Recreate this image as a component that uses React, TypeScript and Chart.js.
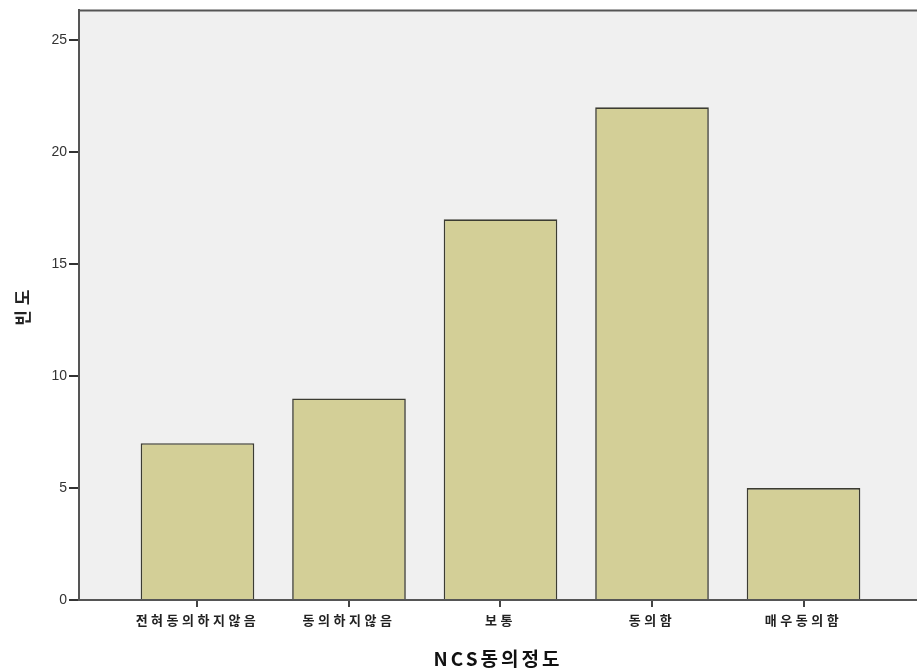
import React, { useEffect, useRef } from "react";
import { Chart, registerables } from "chart.js";

Chart.register(...registerables);

const categories = ["전혀동의하지않음", "동의하지않음", "보통", "동의함", "매우동의함"];
const frequencies = [7, 9, 17, 22, 5];
const yTicks = [0, 5, 10, 15, 20, 25];
const xTitle = "NCS동의정도";
const yTitle = "빈도";

const plotBg = {
  id: "plotBg",
  beforeDraw(chart: any) {
    const { ctx, chartArea: a } = chart;
    ctx.save();
    ctx.fillStyle = "#f0f0f0";
    ctx.fillRect(a.left, a.top, a.right - a.left, a.bottom - a.top);
    ctx.restore();
  },
  afterDraw(chart: any) {
    const { ctx, chartArea: a } = chart;
    ctx.save();
    ctx.strokeStyle = "#555555";
    ctx.lineWidth = 2;
    ctx.beginPath();
    ctx.moveTo(a.left - 1, a.top);
    ctx.lineTo(a.right, a.top);
    ctx.stroke();
    ctx.restore();
  },
};

export default function App() {
  const ref = useRef<HTMLCanvasElement>(null);
  useEffect(() => {
    document.body.style.margin = "0";
    const data = categories.map((c, i) => ({ x: i, y: frequencies[i] }));
    const chart = new Chart(ref.current!, {
      type: "bar",
      data: {
        datasets: [
          {
            data: data as any,
            backgroundColor: "#d3cf97",
            borderColor: "#3c3c32",
            borderWidth: 1.6,
            categoryPercentage: 1,
            barPercentage: 0.75,
          },
        ],
      },
      options: {
        animation: false,
        responsive: false,
        devicePixelRatio: 1,
        layout: { padding: { top: 8, right: 0, left: 0, bottom: 0 } },
        plugins: { legend: { display: false }, tooltip: { enabled: false } },
        scales: {
          x: {
            type: "linear",
            offset: false,
            min: -0.782,
            max: 4.749,
            afterFit(s: any) {
              s.height = 70;
            },
            afterBuildTicks(s: any) {
              s.ticks = categories.map((_, i) => ({ value: i }));
            },
            ticks: {
              autoSkip: false,
              maxRotation: 0,
              padding: 5,
              color: "#222",
              font: { family: "'Noto Sans CJK KR'", size: 13, weight: "bold" },
              callback: (v: any) => categories[v] ?? "",
            },
            grid: {
              offset: false,
              drawOnChartArea: false,
              drawTicks: true,
              tickLength: 7,
              color: "#444",
              lineWidth: 2,
            },
            border: { display: true, color: "#555", width: 2 },
            title: {
              display: true,
              text: xTitle,
              color: "#111",
              font: { family: "'Noto Sans CJK KR', Arial", size: 19, weight: "bold" },
              padding: { top: 4, bottom: 0 },
            },
          },
          y: {
            min: 0,
            max: 26.33,
            afterFit(s: any) {
              s.width = 79;
            },
            afterBuildTicks(s: any) {
              s.ticks = yTicks.map((v) => ({ value: v }));
            },
            ticks: {
              padding: 2,
              color: "#333",
              font: { family: "Arial, 'Liberation Sans'", size: 14 },
            },
            grid: {
              drawOnChartArea: false,
              drawTicks: true,
              tickLength: 10,
              color: "#333",
              lineWidth: 2,
            },
            border: { display: true, color: "#555", width: 2 },
            title: {
              display: true,
              text: yTitle,
              color: "#222",
              font: { family: "'Noto Sans CJK KR'", size: 17, weight: "bold" },
              padding: { top: 12, bottom: 4 },
            },
          },
        },
      },
      plugins: [plotBg],
    });
    const xs: any = chart.scales.x;
    const orig = xs.drawLabels.bind(xs);
    xs.drawLabels = function (area: any) {
      const ctx: any = chart.ctx;
      ctx.save();
      ctx.letterSpacing = "3.5px";
      orig(area);
      ctx.restore();
    };
    const origTitle = xs.drawTitle.bind(xs);
    xs.drawTitle = function () {
      const ctx: any = chart.ctx;
      ctx.save();
      ctx.letterSpacing = "3px";
      origTitle();
      ctx.restore();
    };
    const ys: any = chart.scales.y;
    const origYTitle = ys.drawTitle.bind(ys);
    ys.drawTitle = function () {
      const ctx: any = chart.ctx;
      ctx.save();
      ctx.letterSpacing = "5px";
      origYTitle();
      ctx.restore();
    };
    chart.draw();
    return () => chart.destroy();
  }, []);
  return <canvas ref={ref} width={917} height={670} style={{ display: "block" }} />;
}
